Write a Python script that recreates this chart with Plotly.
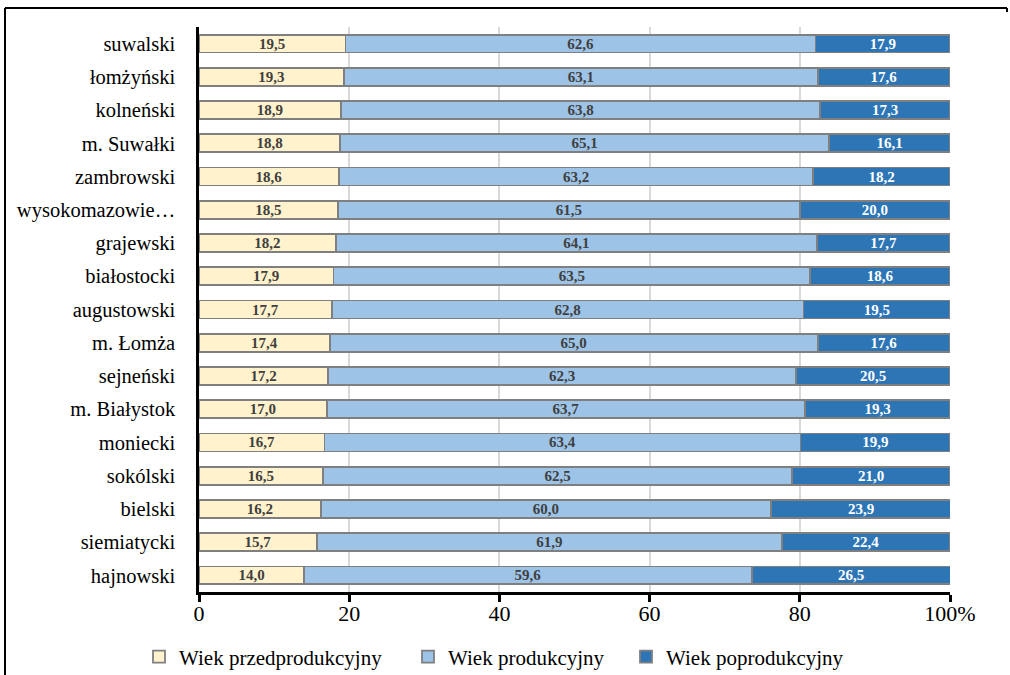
import plotly.graph_objects as go

categories = ["suwalski", "łomżyński", "kolneński", "m. Suwałki", "zambrowski",
              "wysokomazowie…", "grajewski", "białostocki", "augustowski", "m. Łomża",
              "sejneński", "m. Białystok", "moniecki", "sokólski", "bielski",
              "siemiatycki", "hajnowski"]
przed = [19.5, 19.3, 18.9, 18.8, 18.6, 18.5, 18.2, 17.9, 17.7, 17.4, 17.2, 17.0, 16.7, 16.5, 16.2, 15.7, 14.0]
prod = [62.6, 63.1, 63.8, 65.1, 63.2, 61.5, 64.1, 63.5, 62.8, 65.0, 62.3, 63.7, 63.4, 62.5, 60.0, 61.9, 59.6]
poprod = [17.9, 17.6, 17.3, 16.1, 18.2, 20.0, 17.7, 18.6, 19.5, 17.6, 20.5, 19.3, 19.9, 21.0, 23.9, 22.4, 26.5]
series_names = ["Wiek przedprodukcyjny", "Wiek produkcyjny", "Wiek poprodukcyjny"]
tick_vals = [0, 20, 40, 60, 80, 100]
tick_text = ["0", "20", "40", "60", "80", "100%"]

FONT = "Liberation Serif"

def fmt(v):
    return f"{v:.1f}".replace(".", ",")

fig = go.Figure()
specs = [(przed, "#FFF2CC", "#404040", "legend"),
         (prod, "#9DC3E6", "#404040", "legend2"),
         (poprod, "#2E75B6", "#FFFFFF", "legend3")]
for name, (vals, col, tcol, leg) in zip(series_names, specs):
    fig.add_trace(go.Bar(
        y=categories, x=vals, name=name, orientation="h", legend=leg,
        marker=dict(color=col, line=dict(color="#7F7F7F", width=1.8)),
        text=[fmt(v) for v in vals], textposition="inside", insidetextanchor="middle",
        textfont=dict(family=FONT, size=15, color=tcol, weight="bold"),
        textangle=0, constraintext="none", hoverinfo="skip",
    ))

def leg(xpx):
    return dict(orientation="h", x=(xpx - 199) / 751, xanchor="left",
                y=(592 - 657) / 565, yanchor="middle",
                font=dict(family=FONT, size=21, color="#000000"),
                itemwidth=30, bgcolor="rgba(0,0,0,0)", borderwidth=0)

fig.update_layout(
    barmode="stack", bargap=0.46,
    width=1010, height=675,
    margin=dict(l=199, r=60, t=27, b=83, autoexpand=False),
    plot_bgcolor="white", paper_bgcolor="white",
    font=dict(family=FONT, size=18, color="#000000"),
    legend=leg(139), legend2=leg(408), legend3=leg(626),
    showlegend=True,
)
fig.update_xaxes(range=[0, 100], tickvals=tick_vals, ticktext=tick_text,
                 showgrid=True, gridcolor="#D9D9D9", gridwidth=1.5,
                 showline=True, linecolor="#000000", linewidth=2.5,
                 ticks="outside", ticklen=7, tickwidth=2.5, tickcolor="#000000",
                 ticklabelstandoff=-7,
                 tickfont=dict(family=FONT, size=22), zeroline=False, automargin=False)
fig.update_yaxes(autorange="reversed", showline=True, linecolor="#000000", linewidth=2.5,
                 showgrid=False, ticks="", ticklabelstandoff=17, automargin=False,
                 tickfont=dict(family=FONT, size=20.5))

# outer frame
left = (5 - 199) / 751
right = (1007 - 199) / 751
top = (592 - 8) / 565
bottom = (592 - 676) / 565
fig.add_shape(type="line", xref="paper", yref="paper", x0=left, x1=right, y0=top, y1=top,
              line=dict(color="#000000", width=2))
fig.add_shape(type="line", xref="paper", yref="paper", x0=left, x1=left, y0=top, y1=bottom,
              line=dict(color="#000000", width=2))
fig.add_shape(type="line", xref="paper", yref="paper", x0=right, x1=right, y0=top,
              y1=(592 - 12) / 565, line=dict(color="#000000", width=2))

fig.write_html("out.html", config={"displayModeBar": False},
               post_script="document.body.style.margin='0';")
